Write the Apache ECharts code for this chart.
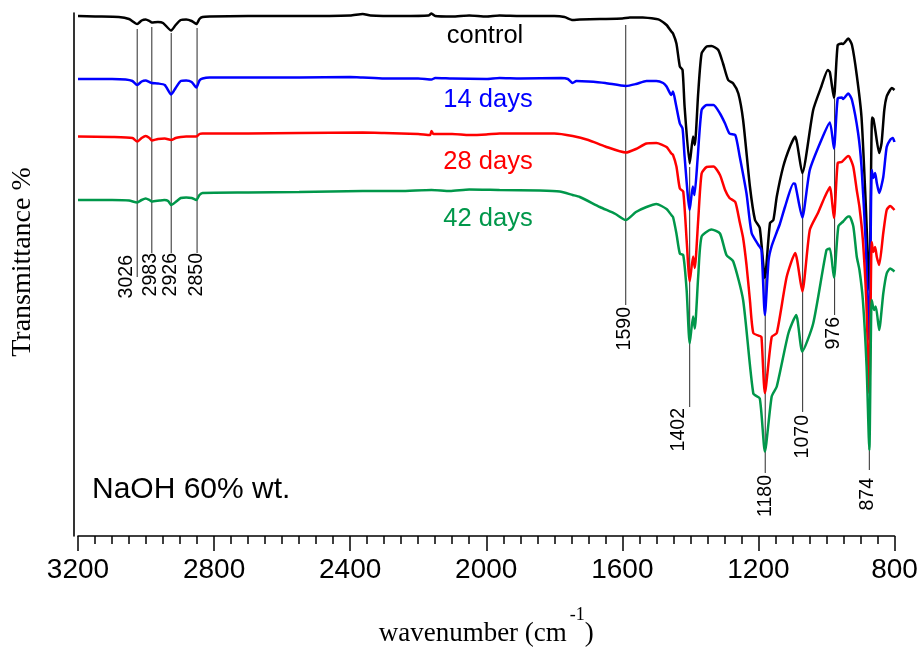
<!DOCTYPE html>
<html>
<head>
<meta charset="utf-8">
<script src="https://cdn.jsdelivr.net/npm/echarts@6/dist/echarts.min.js"></script>
<style>html,body{margin:0;padding:0;background:#fff;overflow:hidden}#c{width:919px;height:650px}</style>
</head>
<body>
<div id="c"></div>
<script>
// ---- data (wavenumber cm^-1, transmittance, arbitrary offset units) ----
const xTicks = [3200, 2800, 2400, 2000, 1600, 1200, 800];

const controlData = [[3200,104.0],[3150,103.9],[3080,103.8],[3050,103.4],[3026,102.4],[3013,103.1],[3001,103.3],[2990,103.0],[2983,102.7],[2965,102.8],[2950,102.6],[2926,101.1],[2913,102.2],[2898,103.2],[2882,103.3],[2866,103.0],[2852,102.4],[2843,103.4],[2834,103.8],[2813,103.9],[2700,104.0],[2550,104.0],[2400,104.1],[2363,104.4],[2340,104.1],[2250,104.0],[2170,104.1],[2161,104.5],[2150,104.0],[2100,103.9],[2050,104.1],[2000,103.9],[1961,104.1],[1900,104.0],[1800,104.0],[1770,103.8],[1746,103.2],[1725,103.3],[1666,103.4],[1600,103.5],[1578,103.7],[1540,103.7],[1500,103.4],[1490,103.2],[1470,102.2],[1456,100.9],[1451,100.5],[1441,98.5],[1431,93.9],[1423,93.2],[1417,85.9],[1402,74.5],[1392,79.9],[1387,78.2],[1377,88.6],[1367,96.5],[1352,97.9],[1338,98.0],[1318,97.2],[1304,94.5],[1289,91.2],[1274,90.5],[1259,88.5],[1245,83.2],[1225,69.9],[1210,63.2],[1196,61.6],[1181,51.6],[1166,62.6],[1156,63.2],[1146,67.9],[1127,73.9],[1107,77.9],[1092,79.9],[1071,72.6],[1039,85.2],[1015,89.9],[996,93.2],[990,92.8],[978,87.6],[967,98.2],[955,98.5],[951,98.4],[936,99.5],[925,98.2],[911,92.2],[897,83.8],[885,67.2],[874,49.2],[866,83.7],[862,83.4],[857,81.4],[845,76.6],[838,78.6],[830,85.2],[823,87.9],[813,89.2],[808,89.6],[800,89.2]];

const days14Data = [[3200,91.4],[3100,91.4],[3060,91.3],[3040,91.0],[3026,90.2],[3013,90.9],[3001,91.1],[2990,90.8],[2983,90.6],[2965,90.5],[2945,90.2],[2926,88.3],[2913,89.6],[2898,91.0],[2882,91.1],[2866,90.8],[2852,89.7],[2843,91.1],[2834,91.5],[2813,91.7],[2700,91.7],[2550,91.7],[2400,91.8],[2363,91.7],[2300,91.5],[2200,91.5],[2161,91.3],[2150,91.6],[2100,91.5],[2000,91.4],[1961,91.6],[1900,91.5],[1780,91.6],[1760,91.4],[1746,90.6],[1735,91.0],[1700,90.9],[1650,90.6],[1590,90.0],[1560,90.4],[1529,91.0],[1500,91.0],[1480,90.6],[1470,89.9],[1456,88.2],[1451,88.9],[1443,86.5],[1431,82.5],[1423,81.5],[1417,75.9],[1402,65.2],[1393,69.9],[1388,68.2],[1379,75.2],[1367,85.2],[1352,86.2],[1332,86.2],[1313,84.5],[1298,82.5],[1285,80.5],[1268,80.2],[1255,75.9],[1235,68.5],[1220,60.6],[1200,58.2],[1191,57.2],[1181,44.2],[1170,55.2],[1161,58.0],[1146,60.8],[1137,62.4],[1122,65.8],[1097,70.5],[1092,70.4],[1071,63.7],[1049,73.2],[1015,79.2],[990,82.7],[978,77.5],[967,87.5],[955,87.7],[951,87.4],[936,88.5],[925,87.2],[907,80.6],[897,73.9],[885,59.2],[874,39.2],[867,73.2],[862,71.6],[857,72.6],[852,70.6],[845,68.6],[833,71.8],[823,77.8],[813,79.2],[805,79.6],[800,78.8]];

const days28Data = [[3200,79.9],[3100,79.8],[3040,79.6],[3026,78.9],[3013,79.6],[3001,80.0],[2990,79.6],[2983,79.1],[2965,79.4],[2945,79.5],[2926,79.2],[2913,79.6],[2898,79.8],[2882,79.9],[2852,79.9],[2843,80.4],[2834,80.5],[2700,80.5],[2550,80.6],[2363,80.7],[2300,80.6],[2200,80.4],[2165,80.2],[2161,81.0],[2155,80.4],[2100,80.4],[2050,80.2],[2000,80.3],[1961,80.5],[1900,80.5],[1800,80.5],[1746,80.0],[1700,79.2],[1650,77.9],[1590,76.7],[1560,77.4],[1529,78.5],[1500,78.6],[1470,77.8],[1456,76.5],[1451,76.2],[1441,73.9],[1431,69.5],[1421,68.9],[1411,59.2],[1402,50.9],[1392,55.9],[1387,53.6],[1377,63.2],[1367,72.5],[1352,73.8],[1332,73.9],[1313,72.2],[1298,69.2],[1285,67.6],[1268,66.8],[1255,62.8],[1245,59.6],[1235,54.2],[1225,47.2],[1215,40.6],[1196,40.0],[1191,39.8],[1181,28.6],[1161,39.8],[1146,40.6],[1117,51.8],[1092,56.6],[1071,48.9],[1049,61.2],[1025,64.6],[1005,67.8],[990,69.8],[978,63.6],[967,74.6],[955,74.8],[936,76.0],[932,75.8],[921,73.8],[911,69.2],[903,65.8],[893,59.2],[883,47.2],[874,28.6],[867,58.8],[862,56.8],[857,57.8],[852,55.8],[845,54.2],[833,60.6],[823,65.2],[813,66.0],[800,65.2]];

const days42Data = [[3200,67.2],[3100,67.2],[3050,67.1],[3026,66.7],[3013,67.2],[3001,67.5],[2990,67.2],[2983,66.9],[2960,67.1],[2946,67.2],[2935,67.0],[2926,66.2],[2913,66.8],[2898,67.6],[2882,67.7],[2866,67.6],[2852,67.2],[2843,68.2],[2834,68.6],[2700,68.7],[2550,68.8],[2363,69.0],[2254,69.0],[2161,69.2],[2107,69.0],[2050,69.3],[1961,69.2],[1843,69.1],[1784,68.9],[1746,68.2],[1725,67.8],[1666,65.8],[1620,64.4],[1590,63.2],[1560,64.8],[1529,65.8],[1500,66.4],[1470,65.4],[1456,64.2],[1451,63.8],[1441,60.5],[1431,56.5],[1421,56.2],[1411,49.2],[1402,38.5],[1392,43.9],[1387,41.5],[1377,51.9],[1367,59.9],[1338,61.3],[1313,60.5],[1294,56.2],[1274,54.9],[1245,47.2],[1215,28.5],[1196,27.5],[1181,16.9],[1161,27.9],[1146,29.9],[1112,40.5],[1089,44.2],[1071,36.9],[1039,42.5],[1000,57.2],[990,57.5],[978,51.7],[965,61.9],[951,62.9],[936,63.9],[932,63.9],[921,61.9],[911,55.9],[903,53.2],[893,47.2],[882,33.9],[874,17.2],[867,47.2],[860,45.2],[855,45.9],[845,41.2],[833,48.5],[823,52.5],[813,53.5],[800,52.9]];

const seriesNames = ['control', '14 days', '28 days', '42 days'];

// peak assignments: wavenumber and label
const peakWn = [3026, 2983, 2926, 2850, 1590, 1402, 1180, 1070, 976, 874];
const peakLabels = ['3026', '2983', '2926', '2850', '1590', '1402', '1180', '1070', '976', '874'];
// vertical extent of each marker line (top value, bottom value, label top value)
const peakLineTop = [101.4, 101.8, 100.6, 101.6, 102.2, 73.8, 51.4, 72.4, 87.4, 49.2];
const peakLineBottom = [51.8, 56.6, 56.6, 56.6, 46.2, 25.8, 12.6, 24.8, 44.2, 13.2];
const peakLabelTop = [56.2, 56.6, 56.6, 56.6, 45.8, 25.6, 12.2, 24.2, 43.8, 11.6];
const peakLabelShift = [-11, -1.5, -1, 0, -1, -11, 0, 0, -1, -2];

// ---- chart ----
const colors = ['#000000', '#0000ff', '#ff0000', '#00974a'];
const allData = [controlData, days14Data, days28Data, days42Data];

const chart = echarts.init(document.getElementById('c'), null, {renderer: 'canvas'});

const peakItems = peakWn.map((w, i) => [w, peakLineTop[i], peakLineBottom[i], peakLabelTop[i], peakLabelShift[i], i]);

const series = allData.map((d, i) => ({
  name: seriesNames[i],
  type: 'line',
  data: d,
  showSymbol: false,
  symbol: 'none',
  smooth: 0.2,
  lineStyle: {color: colors[i], width: 2.5},
  z: 3,
  animation: false
}));

series.push({
  type: 'custom',
  name: 'peaks',
  coordinateSystem: 'cartesian2d',
  data: peakItems,
  encode: {x: 0, y: 1},
  z: 1,
  silent: true,
  animation: false,
  renderItem: function (params, api) {
    const w = api.value(0);
    const p1 = api.coord([w, api.value(1)]);
    const p2 = api.coord([w, api.value(2)]);
    const pl = api.coord([w, api.value(3)]);
    const idx = api.value(5);
    return {
      type: 'group',
      children: [
        {type: 'line', shape: {x1: p1[0], y1: p1[1], x2: p2[0], y2: p2[1]},
         style: {stroke: '#2a2a2a', lineWidth: 1}},
        {type: 'text', x: pl[0] + api.value(4), y: pl[1], rotation: Math.PI / 2,
         style: {text: peakLabels[idx], fill: '#000', font: "19.5px 'Liberation Sans', Arial, sans-serif",
                 align: 'right', verticalAlign: 'middle'}}
      ]
    };
  }
});

chart.setOption({
  animation: false,
  backgroundColor: '#fff',
  grid: {left: 78, right: 24.5, top: 13, bottom: 114, containLabel: false, outerBoundsMode: 'none'},
  xAxis: {
    type: 'value',
    inverse: true,
    min: 800,
    max: 3200,
    interval: 400,
    axisLine: {show: true, onZero: false, lineStyle: {color: '#000', width: 1.6}},
    axisTick: {show: true, inside: false, length: 15, lineStyle: {color: '#000', width: 1.5}},
    minorTick: {show: true, splitNumber: 8, length: 8, lineStyle: {color: '#000', width: 1.5}},
    splitLine: {show: false},
    minorSplitLine: {show: false},
    axisLabel: {
      color: '#000', margin: 20, fontSize: 28,
      fontFamily: "'Liberation Sans', Arial, sans-serif",
      hideOverlap: false,
      formatter: v => xTicks.indexOf(v) >= 0 ? String(v) : ''
    },
    name: '{a|wavenumber (cm}{s|-1}{a|)}',
    nameLocation: 'middle',
    nameGap: 70,
    nameTextStyle: {
      rich: {
        a: {fontFamily: "'Liberation Serif', 'Times New Roman', serif", fontSize: 27, color: '#000', verticalAlign: 'bottom'},
        s: {fontFamily: "'Liberation Serif', 'Times New Roman', serif", fontSize: 18, color: '#000', verticalAlign: 'bottom', padding: [0, 0, 23, 3]}
      }
    }
  },
  yAxis: {
    type: 'value',
    min: 0,
    max: 104.6,
    offset: 4,
    axisLine: {show: true, lineStyle: {color: '#000', width: 1.6}},
    axisTick: {show: false},
    axisLabel: {show: false},
    splitLine: {show: false}
  },
  graphic: [
    {type: 'text', x: 23, y: 262, rotation: Math.PI / 2,
     style: {text: 'Transmittance %', font: "28px 'Liberation Serif', 'Times New Roman', serif", fill: '#000', align: 'center', verticalAlign: 'middle'}},
    {type: 'text', x: 485, y: 36, style: {text: seriesNames[0], font: "25.5px 'Liberation Sans', Arial, sans-serif", fill: colors[0], align: 'center', verticalAlign: 'middle'}},
    {type: 'text', x: 488, y: 100, style: {text: seriesNames[1], font: "25.5px 'Liberation Sans', Arial, sans-serif", fill: colors[1], align: 'center', verticalAlign: 'middle'}},
    {type: 'text', x: 488, y: 162, style: {text: seriesNames[2], font: "25.5px 'Liberation Sans', Arial, sans-serif", fill: colors[2], align: 'center', verticalAlign: 'middle'}},
    {type: 'text', x: 488, y: 219, style: {text: seriesNames[3], font: "25.5px 'Liberation Sans', Arial, sans-serif", fill: colors[3], align: 'center', verticalAlign: 'middle'}},
    {type: 'text', x: 92, y: 490, style: {text: 'NaOH 60% wt.', font: "30px 'Liberation Sans', Arial, sans-serif", fill: '#000', align: 'left', verticalAlign: 'middle'}}
  ],
  series: series
});
</script>
</body>
</html>
